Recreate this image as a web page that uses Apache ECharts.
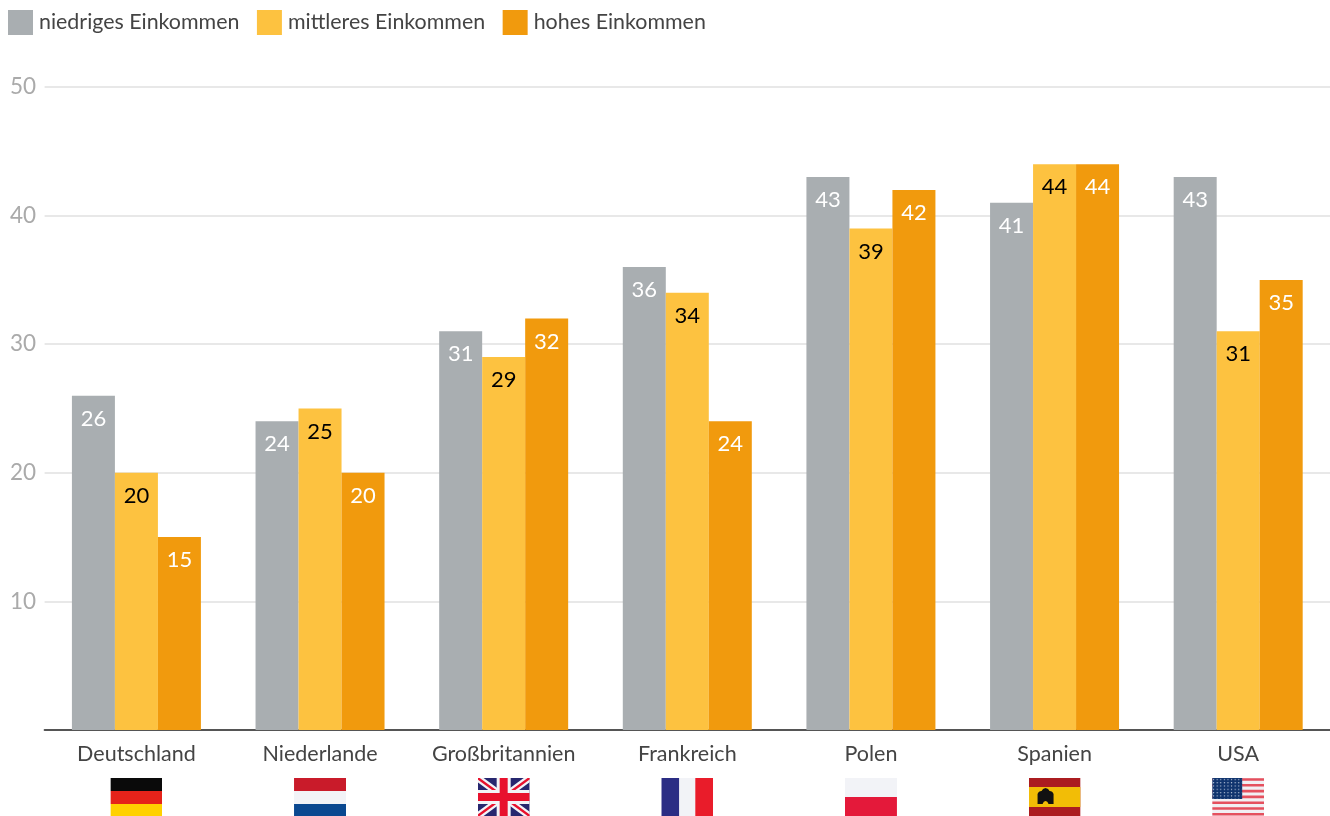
<!DOCTYPE html>
<html lang="de">
<head>
<meta charset="utf-8">
<title>Einkommen nach Land</title>
<style>
html, body { margin: 0; padding: 0; background: #fff; }
#chart { width: 1330px; height: 816px; }
</style>
<script src="https://cdn.jsdelivr.net/npm/echarts@6/dist/echarts.min.js"></script>
</head>
<body>
<div id="chart"></div>
<script>
const countries = ['Deutschland', 'Niederlande', 'Großbritannien', 'Frankreich', 'Polen', 'Spanien', 'USA'];
const flagKeys = ['de', 'nl', 'gb', 'fr', 'pl', 'es', 'us'];
const lowIncome = [26, 24, 31, 36, 43, 41, 43];
const middleIncome = [20, 25, 29, 34, 39, 44, 31];
const highIncome = [15, 20, 32, 24, 42, 44, 35];
const yTicks = [10, 20, 30, 40, 50];

const flagBodies = {
  de: '<rect width="52" height="13" fill="#0a0a0a"/><rect y="13" width="52" height="13" fill="#e5231a"/><rect y="26" width="52" height="12" fill="#ffd100"/>',
  nl: '<rect width="52" height="13" fill="#c91b2a"/><rect y="13" width="52" height="13" fill="#f2f3f7"/><rect y="26" width="52" height="12" fill="#0a4890"/>',
  gb: '<rect width="52" height="38" fill="#27276f"/>' +
      '<path d="M0 0L52 38M52 0L0 38" stroke="#f2f3f7" stroke-width="7"/>' +
      '<path d="M0 0L26 19M52 38L26 19" stroke="#e8112d" stroke-width="2.4"/><path d="M52 0L26 19M0 38L26 19" stroke="#e8112d" stroke-width="2.4"/>' +
      '<rect x="19" width="14" height="38" fill="#f2f3f7"/><rect y="12" width="52" height="14" fill="#f2f3f7"/>' +
      '<rect x="22" width="8" height="38" fill="#e8112d"/><rect y="15" width="52" height="8" fill="#e8112d"/>',
  fr: '<rect width="18" height="38" fill="#2b2d84"/><rect x="18" width="16" height="38" fill="#f2f3f7"/><rect x="34" width="18" height="38" fill="#e91c2a"/>',
  pl: '<rect width="52" height="19" fill="#f2f3f7"/><rect y="19" width="52" height="19" fill="#e4193a"/>',
  es: '<rect width="52" height="38" fill="#ab1c20"/><rect y="9" width="52" height="20" fill="#f2bd06"/>' +
      '<path d="M9 26V16Q10 13 13 13Q14 10.5 17 10Q20 10.5 21 13Q24 13 25 16V26H20Q19 23 17 23Q15 23 14 26Z" fill="#111"/>',
  us: '<defs><pattern id="st" width="3.6" height="3.3" patternUnits="userSpaceOnUse"><circle cx="1.4" cy="1.4" r="0.65" fill="#c9d3e6"/></pattern></defs>' +
      '<rect width="52" height="38" fill="#f1eff3"/>' +
      '<path d="M0 1.5H52M0 7.3H52M0 13.1H52M0 18.9H52M0 24.7H52M0 30.5H52M0 36.3H52" stroke="#e5505e" stroke-width="2.6"/>' +
      '<rect width="30" height="21" fill="#10346e"/><rect width="30" height="21" fill="url(#st)"/>'
};

function flagImage(key) {
  const svg = '<svg xmlns="http://www.w3.org/2000/svg" width="52" height="38" viewBox="0 0 52 38">' + flagBodies[key] + '</svg>';
  return 'data:image/svg+xml;charset=utf-8,' + encodeURIComponent(svg);
}

const richStyles = {
  name: { fontFamily: 'Lato', fontSize: 21.5, color: '#444444', lineHeight: 35, align: 'center', verticalAlign: 'top' }
};
flagKeys.forEach(function (key) {
  richStyles[key] = { width: 52, height: 38, align: 'center', backgroundColor: { image: flagImage(key) } };
});

function barSeries(name, values, color, labelColor) {
  return {
    name: name,
    type: 'bar',
    data: values,
    barWidth: 43,
    barGap: 0,
    itemStyle: { color: color },
    label: {
      show: true,
      position: 'insideTop',
      distance: 12,
      fontFamily: 'Lato',
      fontSize: 22,
      color: labelColor
    }
  };
}

const chart = echarts.init(document.getElementById('chart'), null, { renderer: 'canvas' });
chart.setOption({
  animation: false,
  backgroundColor: '#ffffff',
  legend: {
    left: 3,
    top: 5,
    icon: 'rect',
    itemWidth: 25,
    itemHeight: 25,
    itemGap: 17.5,
    selectedMode: false,
    textStyle: { fontFamily: 'Lato', fontSize: 21.4, color: '#444444', padding: [0, 0, 5, 1] }
  },
  grid: { left: 44.6, right: -1.4, top: 87, bottom: 86, containLabel: false },
  xAxis: {
    type: 'category',
    data: countries,
    axisTick: { show: false },
    axisLine: { lineStyle: { color: '#555555', width: 2 } },
    axisLabel: {
      interval: 0,
      margin: 13,
      hideOverlap: false,
      formatter: function (value, index) {
        return '{name|' + value + '}\n{' + flagKeys[index] + '|}';
      },
      rich: richStyles
    }
  },
  yAxis: {
    type: 'value',
    min: 0,
    max: yTicks[yTicks.length - 1],
    interval: 10,
    axisLine: { show: false },
    axisTick: { show: false },
    splitLine: { lineStyle: { color: '#e8e8e8', width: 2 } },
    axisLabel: {
      margin: 8.6,
      fontFamily: 'Lato',
      fontSize: 22.5,
      color: '#aaaaaa',
      formatter: function (v) { return v === 0 ? '' : String(v); }
    }
  },
  series: [
    barSeries('niedriges Einkommen', lowIncome, '#a9aeb1', '#ffffff'),
    barSeries('mittleres Einkommen', middleIncome, '#fdc240', '#000000'),
    barSeries('hohes Einkommen', highIncome, '#f19a0d', '#ffffff')
  ]
});
</script>
</body>
</html>
